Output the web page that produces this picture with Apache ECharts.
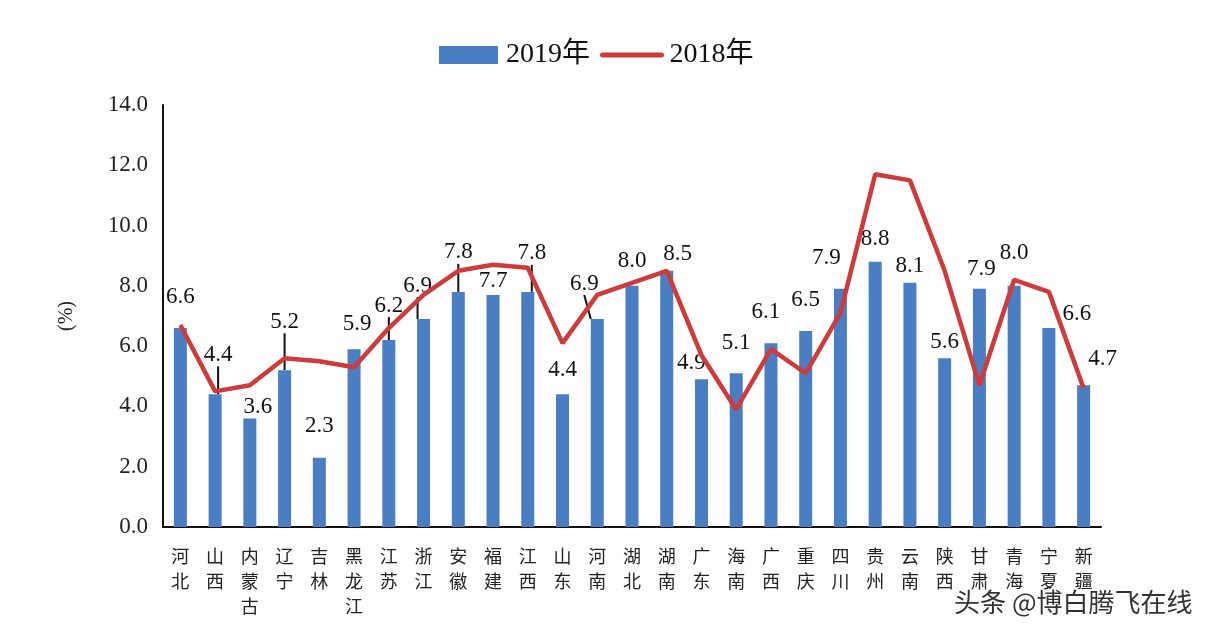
<!DOCTYPE html>
<html>
<head>
<meta charset="utf-8">
<script src="https://cdn.jsdelivr.net/npm/echarts@6/dist/echarts.min.js"></script>
<style>
html,body{margin:0;padding:0;background:#fff;}
#c{width:1216px;height:640px;}
</style>
</head>
<body>
<div id="c"></div>
<script>
const categories = ['河北','山西','内蒙古','辽宁','吉林','黑龙江','江苏','浙江','安徽','福建','江西','山东','河南','湖北','湖南','广东','海南','广西','重庆','四川','贵州','云南','陕西','甘肃','青海','宁夏','新疆'];
const values2019 = [6.6,4.4,3.6,5.2,2.3,5.9,6.2,6.9,7.8,7.7,7.8,4.4,6.9,8.0,8.5,4.9,5.1,6.1,6.5,7.9,8.8,8.1,5.6,7.9,8.0,6.6,4.7];
const values2018 = [6.7,4.5,4.7,5.6,5.5,5.3,6.6,7.7,8.5,8.7,8.6,6.1,7.7,8.1,8.5,5.7,3.9,5.9,5.1,7.1,11.7,11.5,8.5,4.7,8.2,7.8,4.6];
const yTicks = [0,2,4,6,8,10,12,14];
const seriesNames = ['2019年','2018年'];

// label offsets (dx, dy) for the 2019 value labels, and which ones get a leader line
const labelShift = [[0,-15],[3,-23],[8,5],[0,-32],[0,-15],[3,-9],[0,-18],[-6,-17],[0,-23],[0,3],[4,-22],[0,-8],[-13,-19],[0,-8],[11,0],[-10,0],[0,-14],[-5,-15],[0,-15],[-14,-14],[0,-6],[0,0],[0,0],[2,-3],[0,-16],[28,2],[19,-10]];
const leaderIdx = [1,3,6,7,8,10,12];

const chart = echarts.init(document.getElementById('c'));
const barData = values2019.map((v,i)=>({value:v, labelLine:{show: leaderIdx.indexOf(i)>=0}}));

chart.setOption({
  backgroundColor:'#ffffff',
  animation:false,
  legend:{
    top:36,
    left:434,
    itemGap:10,
    itemWidth:59,
    itemHeight:18,
    textStyle:{fontFamily:'Liberation Serif, Noto Sans CJK SC',fontSize:28,color:'#111',padding:[0,0,0,3]},
    data:[
      {name:seriesNames[0],icon:'rect'},
      {name:seriesNames[1],itemStyle:{opacity:0},lineStyle:{width:5,color:'#cf3a3a',cap:'round'}}
    ]
  },
  grid:{left:163,right:115,top:105,bottom:113,containLabel:false},
  xAxis:{
    type:'category',
    data:categories,
    boundaryGap:true,
    axisLine:{lineStyle:{color:'#111',width:2}},
    axisTick:{show:false},
    axisLabel:{
      interval:0,
      margin:17,
      fontFamily:'Noto Sans CJK SC',
      fontSize:18,
      lineHeight:25,
      color:'#222',
      formatter:v=>v.split('').join('\n')
    }
  },
  yAxis:{
    type:'value',
    min:yTicks[0],
    max:yTicks[yTicks.length-1],
    interval:2,
    name:'(%)',
    nameLocation:'middle',
    nameRotate:90,
    nameGap:86,
    nameTextStyle:{fontFamily:'Liberation Serif',fontSize:20,color:'#222'},
    axisLine:{show:true,lineStyle:{color:'#111',width:2}},
    axisTick:{show:false},
    splitLine:{show:false},
    axisLabel:{
      margin:15,
      fontFamily:'Liberation Serif',
      fontSize:23,
      color:'#222',
      formatter:v=>v.toFixed(1)
    }
  },
  series:[
    {
      name:seriesNames[0],
      type:'bar',
      data:barData,
      barWidth:13,
      itemStyle:{color:'#4a7ec2'},
      label:{
        show:true,
        position:'top',
        distance:5,
        fontFamily:'Liberation Serif',
        fontSize:23,
        color:'#111',
        formatter:p=>p.value.toFixed(1)
      },
      labelLine:{show:false,lineStyle:{color:'#111',width:2}},
      labelLayout:p=>({dx:labelShift[p.dataIndex][0],dy:labelShift[p.dataIndex][1]}),
      z:2
    },
    {
      name:seriesNames[1],
      type:'line',
      data:values2018,
      showSymbol:false,
      symbol:'none',
      lineStyle:{color:'#cf3a3a',width:4.5},
      itemStyle:{color:'#cf3a3a'},
      z:3
    }
  ],
  graphic:[{
    type:'text',
    right:22,
    top:588,
    style:{
      text:'头条 @博白腾飞在线',
      fontFamily:'Noto Sans CJK SC',
      fontSize:26,
      fill:'#333',
      stroke:'#fff',
      lineWidth:3
    },
    z:100
  }]
});
</script>
</body>
</html>
